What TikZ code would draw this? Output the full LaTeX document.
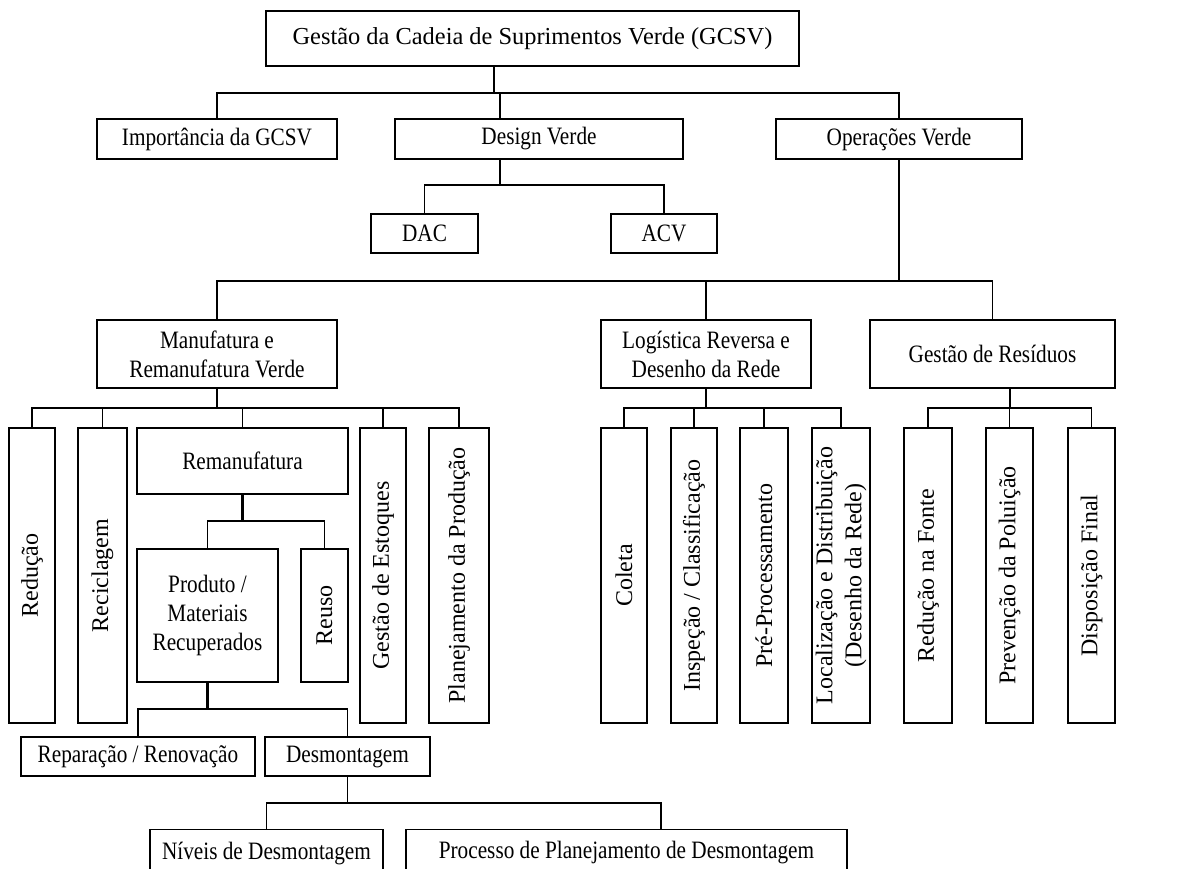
\documentclass[tikz,border=0pt]{standalone}
\usepackage{fontspec}
\setmainfont{Liberation Serif}
\newfontfamily\condfont[FakeStretch=0.85]{Liberation Serif}
\begin{document}
\begin{tikzpicture}[x=0.5pt,y=-0.5pt,
  txt/.style={font=\condfont\fontsize{12.5}{14.5}\selectfont, align=center},
  vtxt/.style={font=\fontsize{12}{14.5}\selectfont, align=center},
  box/.style={draw, line width=0.7pt, inner sep=0pt, txt},
  lab/.style={vtxt, rotate=90, anchor=center, inner sep=0pt},
  toplab/.style={txt, anchor=center, inner sep=0pt, yshift=-12pt},
  ln/.style={line width=0.7pt},
  tk/.style={line width=1.4pt}]
\useasboundingbox (0,0) rectangle (1198,868);
\clip (0,0) rectangle (1198,868);
% level 0-1
\node[box, minimum width=266.5pt, minimum height=27.5pt, font=\fontsize{12.2}{14.5}\selectfont] (top) at (532.5,38.5) {Gestão da Cadeia de Suprimentos Verde (GCSV)};
\node[box, minimum width=120pt, minimum height=20pt] (imp) at (217,139) {Importância da GCSV};
\node[box, minimum width=144pt, minimum height=20pt] (des) at (539,139) {Design Verde};
\node[box, minimum width=123pt, minimum height=20pt] (ope) at (899,139) {Operações Verde};
\node[box, minimum width=53.5pt, minimum height=19.5pt] (dac) at (424.5,233.5) {DAC};
\node[box, minimum width=53pt, minimum height=19.5pt] (acv) at (664,233.5) {ACV};
% level 2
\node[box, minimum width=120pt, minimum height=34pt] (man) at (217,354) {Manufatura e\\Remanufatura Verde};
\node[box, minimum width=105pt, minimum height=34pt] (log) at (706,354) {Logística Reversa e\\Desenho da Rede};
\node[box, minimum width=122.5pt, minimum height=34pt] (ges) at (992.5,354) {Gestão de Resíduos};
% vertical boxes
\node[box, minimum width=23pt, minimum height=147.5pt, label={[lab]center:Redução}] (red) at (32,575.5) {};
\node[box, minimum width=24.5pt, minimum height=147.5pt, label={[lab]center:Reciclagem}] (rec) at (102.5,575.5) {};
\node[box, minimum width=23pt, minimum height=147.5pt, label={[lab]center:Gestão de Estoques}] (est) at (383,575.5) {};
\node[box, minimum width=30pt, minimum height=147.5pt, label={[lab]center:Planejamento da Produção}] (pla) at (459,575.5) {};
\node[box, minimum width=23pt, minimum height=147.5pt, label={[lab]center:Coleta}] (col) at (624,575.5) {};
\node[box, minimum width=23pt, minimum height=147.5pt, label={[lab]center:Inspeção / Classificação}] (ins) at (694,575.5) {};
\node[box, minimum width=24pt, minimum height=147.5pt, label={[lab]center:Pré-Processamento}] (pre) at (764,575.5) {};
\node[box, minimum width=29pt, minimum height=147.5pt, label={[lab]center:Localização e Distribuição\\(Desenho da Rede)}] (loc) at (841,575.5) {};
\node[box, minimum width=24pt, minimum height=147.5pt, label={[lab]center:Redução na Fonte}] (rf) at (928,575.5) {};
\node[box, minimum width=23.5pt, minimum height=147.5pt, label={[lab]center:Prevenção da Poluição}] (pp) at (1009.5,575.5) {};
\node[box, minimum width=23.5pt, minimum height=147.5pt, label={[lab]center:Disposição Final}] (df) at (1091.5,575.5) {};
% remanufatura
\node[box, minimum width=105.5pt, minimum height=33pt] (rem) at (242.5,461) {Remanufatura};
\node[box, minimum width=70.5pt, minimum height=66.5pt] (pro) at (207.5,615.5) {Produto /\\Materiais\\Recuperados};
\node[box, minimum width=23.5pt, minimum height=66.5pt, label={[lab]center:Reuso}] (reu) at (324.5,615.5) {};
\node[box, minimum width=117pt, minimum height=19.5pt] (rep) at (138,756.5) {Reparação / Renovação};
\node[box, minimum width=82.5pt, minimum height=19.5pt] (dsm) at (347.5,756.5) {Desmontagem};
\node[box, minimum width=116.5pt, minimum height=30pt, anchor=north, label={[toplab]north:Níveis de Desmontagem}] (niv) at (266.5,829) {};
\node[box, minimum width=220.5pt, minimum height=30pt, anchor=north, label={[toplab]north:Processo de Planejamento de Desmontagem}] (prc) at (626.5,829) {};
% connectors
\coordinate (j0) at (494,93);
\draw[tk] (top.south -| j0) -- (j0);
\draw[ln] (imp.north) |- (j0) -- (ope.north |- j0) -- (ope.north);
\coordinate (jd) at (500,93);
\draw[ln] (jd) -- (des.north -| jd);
\coordinate (j1) at (500,185);
\draw[ln] (des.south -| j1) -- (j1);
\draw[ln] (dac.north) |- (j1) -| (acv.north);
\coordinate (j2) at (899,281);
\draw[tk] (ope.south) -- (j2);
\draw[tk] (man.north) |- (j2);
\draw[ln] (j2) -| (ges.north);
\draw[ln] (log.north) -- (log.north |- j2);
\coordinate (j3) at (217,408);
\draw[tk] (man.south) -- (j3);
\draw[ln] (red.north) |- (j3) -| (pla.north);
\draw[ln] (rec.north) -- (rec.north |- j3);
\draw[ln] (rem.north) -- (rem.north |- j3);
\draw[ln] (est.north) -- (est.north |- j3);
\coordinate (j4) at (706,408);
\draw[tk] (log.south) -- (j4);
\draw[ln] (col.north) |- (j4) -| (loc.north);
\draw[ln] (ins.north) -- (ins.north |- j4);
\draw[ln] (pre.north) -- (pre.north |- j4);
\coordinate (j5) at (1010,408);
\draw[tk] (ges.south -| j5) -- (j5);
\draw[ln] (rf.north) |- (j5) -| (df.north);
\draw[ln] (pp.north) -- (pp.north |- j5);
\coordinate (j6) at (242.5,521);
\draw[tk] (rem.south) -- (j6);
\draw[ln] (pro.north) |- (j6) -| (reu.north);
\coordinate (j7) at (207.5,709);
\draw[tk] (pro.south) -- (j7);
\draw[ln] (rep.north) |- (j7) -| (dsm.north);
\coordinate (j8) at (347.5,803);
\coordinate (j9) at (661,803);
\draw[ln] (dsm.south) -- (j8);
\draw[ln] (niv.north) |- (j8) -- (j9) -- (prc.north -| j9);
\end{tikzpicture}
\end{document}
